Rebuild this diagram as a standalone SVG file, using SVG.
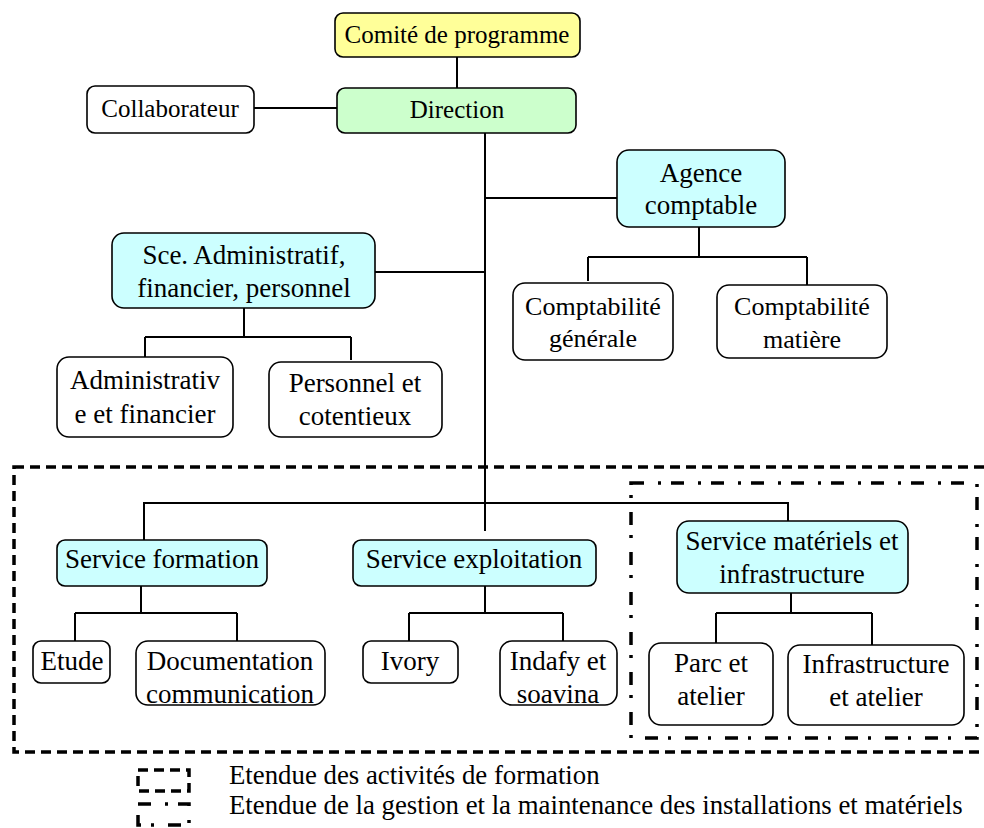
<svg xmlns="http://www.w3.org/2000/svg" width="984" height="828" viewBox="0 0 984 828">
  <style>
    .box { stroke: #000; stroke-width: 1.6; fill: #fff; }
    .yellow { fill: #ffff99; }
    .green { fill: #ccffcc; }
    .cyan { fill: #ccffff; }
    text { font-family: "Liberation Serif", "Times New Roman", serif; font-size: 27px; fill: #000; text-anchor: middle; }
    .top text { font-size: 25px; }
    .mid text { font-size: 26px; }
    .legend-text { text-anchor: start; font-size: 26.8px; }
    .link { stroke: #000; stroke-width: 2; fill: none; }
    .dashed { stroke: #000; stroke-width: 3.5; fill: none; stroke-dasharray: 10 6; }
    .dashdot { stroke: #000; stroke-width: 3.5; fill: none; stroke-dasharray: 13 14 3 10; }
  </style>

  <!-- scope frames -->
  <rect class="dashed" x="14" y="467" width="972" height="285"/>
  <rect class="dashdot" x="631" y="483" width="346" height="255"/>

  <!-- connectors -->
  <g id="connectors">
    <path class="link" d="M457 57 V88"/>
    <path class="link" d="M254 108 H337"/>
    <path class="link" d="M485 133 V531"/>
    <path class="link" d="M485 198 H617"/>
    <path class="link" d="M375 272 H485"/>
    <path class="link" d="M244 308 V337 M145 337 H351 M145 337 V357 M351 337 V360"/>
    <path class="link" d="M699 227 V257 M588 257 H807 M588 257 V281 M807 257 V285"/>
    <path class="link" d="M144 540 V503 H788 V521"/>
    <path class="link" d="M141 586 V613 M75 613 H237 M75 613 V641 M237 613 V641"/>
    <path class="link" d="M485 586 V613 M409 613 H563 M409 613 V641 M563 613 V641"/>
    <path class="link" d="M791 593 V613 M716 613 H872 M716 613 V643 M872 613 V645"/>
  </g>

  <g id="comite" class="top">
    <rect class="box yellow" x="335" y="13" width="245" height="44" rx="8"/>
    <text x="457" y="43">Comité de programme</text>
  </g>
  <g id="direction" class="top">
    <rect class="box green" x="337" y="88" width="239" height="45" rx="8"/>
    <text x="457" y="118">Direction</text>
  </g>
  <g id="collaborateur" class="top">
    <rect class="box" x="87" y="86" width="167" height="47" rx="8"/>
    <text x="170" y="117">Collaborateur</text>
  </g>
  <g id="agence">
    <rect class="box cyan" x="617" y="150" width="168" height="77" rx="12"/>
    <text x="701" y="182">Agence</text>
    <text x="701" y="214">comptable</text>
  </g>
  <g id="sce-admin">
    <rect class="box cyan" x="112" y="233" width="263" height="75" rx="12"/>
    <text x="244" y="264">Sce. Administratif,</text>
    <text x="244" y="297">financier, personnel</text>
  </g>
  <g id="admin-fin">
    <rect class="box" x="57" y="357" width="176" height="80" rx="12"/>
    <text x="145" y="389">Administrativ</text>
    <text x="145" y="423">e et financier</text>
  </g>
  <g id="personnel">
    <rect class="box" x="269" y="362" width="173" height="75" rx="12"/>
    <text x="355" y="392">Personnel et</text>
    <text x="355" y="425">cotentieux</text>
  </g>
  <g id="compta-gen" class="mid">
    <rect class="box" x="513" y="283" width="160" height="77" rx="12"/>
    <text x="593" y="315">Comptabilité</text>
    <text x="593" y="347">générale</text>
  </g>
  <g id="compta-mat" class="mid">
    <rect class="box" x="717" y="285" width="170" height="73" rx="12"/>
    <text x="802" y="315">Comptabilité</text>
    <text x="802" y="348">matière</text>
  </g>
  <g id="formation">
    <rect class="box cyan" x="57" y="540" width="210" height="46" rx="8"/>
    <text x="162" y="568">Service formation</text>
  </g>
  <g id="exploitation">
    <rect class="box cyan" x="353" y="540" width="243" height="46" rx="8"/>
    <text x="474" y="568">Service exploitation</text>
  </g>
  <g id="materiels">
    <rect class="box cyan" x="677" y="521" width="231" height="72" rx="12"/>
    <text x="792" y="550">Service matériels et</text>
    <text x="792" y="583">infrastructure</text>
  </g>
  <g id="etude">
    <rect class="box" x="33" y="641" width="77" height="42" rx="8"/>
    <text x="72" y="670">Etude</text>
  </g>
  <g id="documentation">
    <rect class="box" x="136" y="641" width="189" height="64" rx="12"/>
    <text x="230" y="670">Documentation</text>
    <text x="230" y="703">communication</text>
  </g>
  <g id="ivory">
    <rect class="box" x="363" y="641" width="95" height="42" rx="8"/>
    <text x="410" y="670">Ivory</text>
  </g>
  <g id="indafy">
    <rect class="box" x="500" y="641" width="117" height="64" rx="12"/>
    <text x="558" y="670">Indafy et</text>
    <text x="558" y="703">soavina</text>
  </g>
  <g id="parc">
    <rect class="box" x="649" y="643" width="124" height="82" rx="12"/>
    <text x="711" y="672">Parc et</text>
    <text x="711" y="705">atelier</text>
  </g>
  <g id="infrastructure">
    <rect class="box" x="788" y="645" width="176" height="80" rx="12"/>
    <text x="876" y="673">Infrastructure</text>
    <text x="876" y="706">et atelier</text>
  </g>

  <!-- legend -->
  <g id="legend">
    <rect class="dashed" x="138" y="770" width="51" height="21"/>
    <rect class="dashdot" x="138" y="804" width="51" height="21"/>
    <text class="legend-text" x="229" y="784">Etendue des activités de formation</text>
    <text class="legend-text" x="229" y="814">Etendue de la gestion et la maintenance des installations et matériels</text>
  </g>
</svg>
